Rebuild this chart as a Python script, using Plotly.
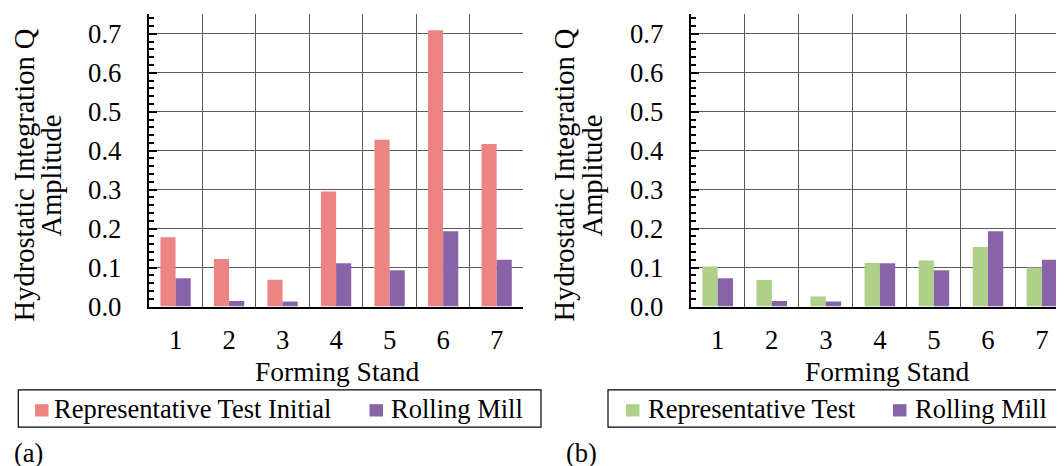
import plotly.graph_objects as go

stands = ["1", "2", "3", "4", "5", "6", "7"]
rep_test_initial = [0.178, 0.122, 0.069, 0.295, 0.428, 0.709, 0.417]
rolling_mill = [0.073, 0.014, 0.013, 0.111, 0.093, 0.193, 0.120]
rep_test = [0.103, 0.068, 0.026, 0.112, 0.118, 0.153, 0.100]

y_ticks = [0.0, 0.1, 0.2, 0.3, 0.4, 0.5, 0.6, 0.7]
y_ticklabels = ["0.0", "0.1", "0.2", "0.3", "0.4", "0.5", "0.6", "0.7"]

legend_a = ["Representative Test Initial", "Rolling Mill"]
legend_b = ["Representative Test", "Rolling Mill"]

RED = "#EC8484"
PURPLE = "#8863A8"
GREEN = "#AFD088"
FONT = "Liberation Serif"
FS_TICK = 26.7
FS_TITLE = 27.5
FS_YTITLE = 28.5
FS_LEG = 26.5

# page body has an 8px margin; the captured page is also squeezed vertically
OFF = 8
SY = 466 / 482
W, H = 1064 - OFF, 466

fig = go.Figure()
fig.add_trace(go.Bar(x=stands, y=rep_test_initial, name=legend_a[0], showlegend=False,
                     marker=dict(color=RED, line=dict(width=0)), xaxis="x", yaxis="y"))
fig.add_trace(go.Bar(x=stands, y=rolling_mill, name=legend_a[1], showlegend=False,
                     marker=dict(color=PURPLE, line=dict(width=0)), xaxis="x", yaxis="y"))
fig.add_trace(go.Bar(x=stands, y=rep_test, name=legend_b[0], showlegend=False,
                     marker=dict(color=GREEN, line=dict(width=0)), xaxis="x2", yaxis="y2"))
fig.add_trace(go.Bar(x=stands, y=rolling_mill, name=legend_b[1], showlegend=False,
                     marker=dict(color=PURPLE, line=dict(width=0)), xaxis="x2", yaxis="y2"))

def px_x(p):
    return (p - OFF) / W

def px_y(p):
    return 1 - (p / SY - OFF) / H

GRID = "#5a5a5a"
xcommon = dict(type="category", tickson="boundaries", showgrid=True, gridcolor=GRID, gridwidth=1.2,
               showline=True, linecolor="black", linewidth=2, ticks="", ticklabelstandoff=8,
               tickfont=dict(family=FONT, size=FS_TICK, color="black"), zeroline=False)
ycommon = dict(range=[0, 0.75], tickvals=y_ticks, ticktext=y_ticklabels, showgrid=True,
               gridcolor=GRID, gridwidth=1.2, showline=True, linecolor="black", linewidth=2,
               ticks="inside", ticklen=8, tickwidth=2, tickcolor="black", ticklabelstandoff=20,
               minor=dict(dtick=0.02, tick0=0, ticks="inside", ticklen=5, tickwidth=1.5,
                          tickcolor="black", showgrid=False),
               tickfont=dict(family=FONT, size=FS_TICK, color="black"), zeroline=False)

y0_px, ytop_px = 306.0, 306.0 - 7.5 * 38.93
ydom = [px_y(y0_px), px_y(ytop_px)]
fig.update_layout(
    width=W, height=H, margin=dict(l=0, r=0, t=0, b=0),
    paper_bgcolor="white", plot_bgcolor="white",
    barmode="group", bargap=0.434, bargroupgap=0,
    font=dict(family=FONT, size=FS_TICK, color="black"),
    showlegend=False,
    xaxis=dict(domain=[px_x(148.8), px_x(523.4)], anchor="y", range=[-0.5, 6.5], **xcommon),
    yaxis=dict(domain=ydom, anchor="x", **ycommon),
    xaxis2=dict(domain=[px_x(690.7), 1.0], anchor="y2", range=[-0.5, -0.5 + (1064 - 690.7) / 54.05], **xcommon),
    yaxis2=dict(domain=ydom, anchor="x2", **ycommon),
)

def ann(text, x, y, size, xanchor="center", yanchor="middle", angle=0):
    fig.add_annotation(text=text, x=px_x(x), y=px_y(y), xref="paper", yref="paper",
                       xanchor=xanchor, yanchor=yanchor, textangle=angle, showarrow=False,
                       font=dict(family=FONT, size=size, color="black"))

for l1, l2 in ((24, 51), (564, 592)):
    ann("Hydrostatic Integration Q", l1, 175, FS_YTITLE, angle=-90)
    ann("Amplitude", l2, 175, FS_YTITLE, angle=-90)

ann("Forming Stand", 337, 371, FS_TITLE)
ann("Forming Stand", 887, 371, FS_TITLE)
ann("(a)", 12, 452, FS_LEG, xanchor="left")
ann("(b)", 564, 452, FS_LEG, xanchor="left")

# legends (boxes, swatches, labels)
def legend_box(x0, x1, items):
    fig.add_shape(type="rect", xref="paper", yref="paper", x0=px_x(x0), x1=px_x(x1),
                  y0=px_y(426.5), y1=px_y(389.3), line=dict(color="black", width=1.2),
                  fillcolor="rgba(0,0,0,0)")
    for (sx, tx, label, color) in items:
        fig.add_shape(type="rect", xref="paper", yref="paper", x0=px_x(sx), x1=px_x(sx + 13.5),
                      y0=px_y(415.8), y1=px_y(403.5), line=dict(width=0), fillcolor=color)
        ann(label, tx, 408.5, FS_LEG, xanchor="left")

legend_box(18.3, 541, [(35, 52, legend_a[0], RED), (369.5, 388.5, legend_a[1], PURPLE)])
legend_box(608, 1063, [(626, 645.5, legend_b[0], GREEN), (893, 912.5, legend_b[1], PURPLE)])

fig.write_html("out.html")
